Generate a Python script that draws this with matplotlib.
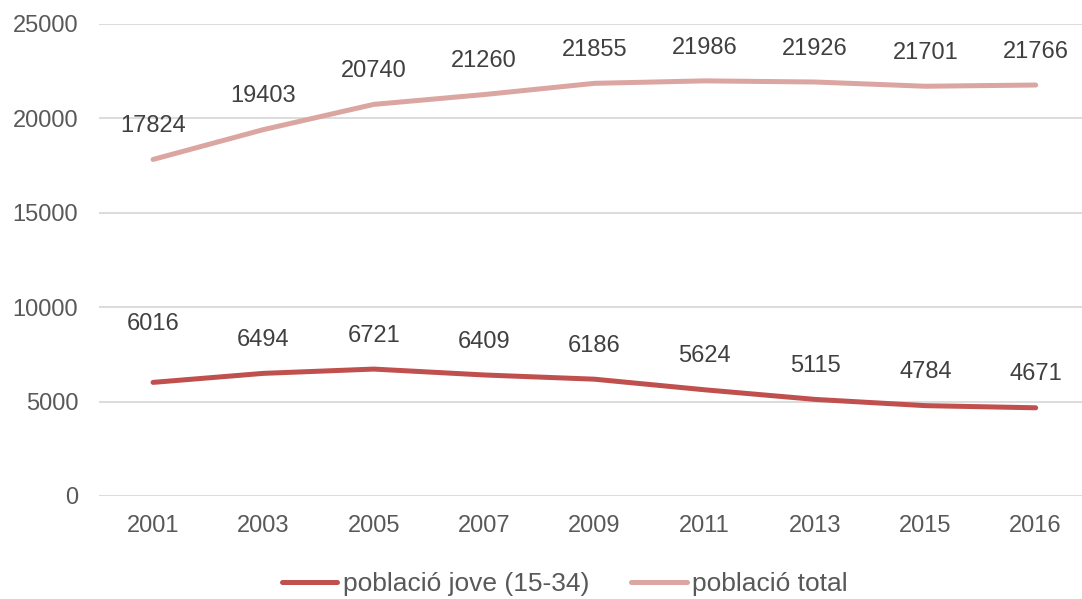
import matplotlib.pyplot as plt

plt.rcParams['font.family'] = ['Liberation Sans', 'DejaVu Sans']

years = ['2001', '2003', '2005', '2007', '2009', '2011', '2013', '2015', '2016']
jove = [6016, 6494, 6721, 6409, 6186, 5624, 5115, 4784, 4671]
total = [17824, 19403, 20740, 21260, 21855, 21986, 21926, 21701, 21766]

DARK = '#c0504d'
LIGHT = '#dba5a2'
TXT = '#404040'

fig = plt.figure(figsize=(10.82, 5.99), dpi=100)
ax = fig.add_axes([0.0915, 0.172, 0.9085, 0.788])

x = list(range(len(years)))
ax.plot(x, jove, color=DARK, lw=3.6, solid_capstyle='round', label='població jove (15-34)')
ax.plot(x, total, color=LIGHT, lw=3.6, solid_capstyle='round', label='població total')

for i, v in enumerate(jove):
    dy = 42 if i == 0 else 24  # first label sits higher in the original
    ax.annotate(str(v), (i, v), xytext=(0, dy), textcoords='offset points',
                ha='center', va='center', fontsize=17, color=TXT)
for i, v in enumerate(total):
    ax.annotate(str(v), (i, v), xytext=(0, 24), textcoords='offset points',
                ha='center', va='center', fontsize=17, color=TXT)

ax.set_xlim(-0.49, 8.42)
ax.set_ylim(0, 25000)
ax.set_yticks(range(0, 25001, 5000))
ax.set_xticks(x)
ax.set_xticklabels(years)
ax.grid(axis='y', color='#d9d9d9', lw=1.3)
ax.set_axisbelow(True)
for s in ax.spines.values():
    s.set_visible(False)
ax.tick_params(length=0, labelsize=17, labelcolor='#595959')
ax.tick_params(axis='y', pad=15)
ax.tick_params(axis='x', pad=14)

leg = fig.legend(loc='center', bbox_to_anchor=(0.522, 0.025), ncol=2, frameon=False,
                 fontsize=19, handlelength=2.1, handletextpad=0.2, columnspacing=1.6)
for t in leg.get_texts():
    t.set_color('#595959')

fig.savefig('out.png', dpi=100)
